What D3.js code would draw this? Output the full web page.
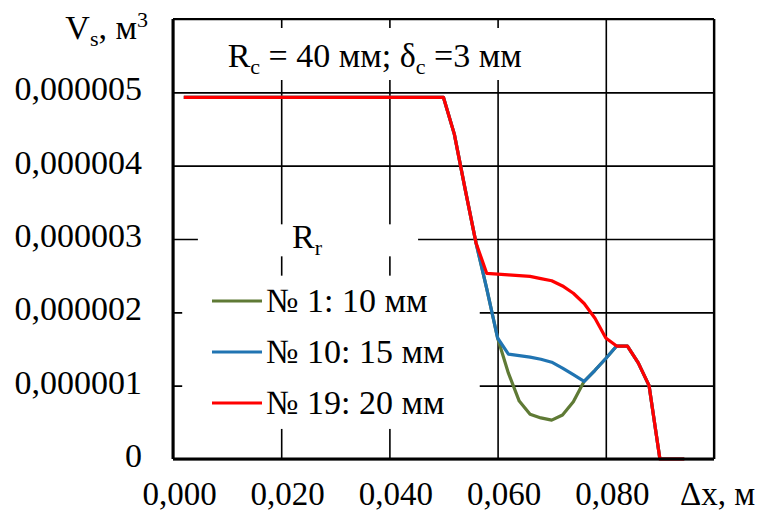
<!DOCTYPE html>
<html lang="ru">
<head>
  <meta charset="UTF-8">
  <title>Vs от Δx</title>
  <script src="https://d3js.org/d3.v7.min.js"></script>
  <style>
    html, body { margin: 0; padding: 0; background: #fff; }
    svg text { font-family: "Liberation Serif", "Times New Roman", serif; fill: #000; }
  </style>
</head>
<body>
  <svg id="chart" width="763" height="513"></svg>

  <script>
    // Δx, м (shared by all three curves)
    const xVals = [0.002, 0.050, 0.052, 0.054, 0.056, 0.058, 0.060, 0.062, 0.064, 0.066, 0.068,
                   0.070, 0.072, 0.074, 0.076, 0.078, 0.080, 0.082, 0.084, 0.086, 0.088, 0.090,
                   0.092, 0.0945];
    // Vs in units of 1e-6 м³
    const vsR1 = [4.93, 4.93, 4.43, 3.68, 2.95, 2.32, 1.65, 1.17, 0.79, 0.61, 0.56,
                  0.53, 0.60, 0.78, 1.06, 1.21, 1.37, 1.54, 1.54, 1.31, 1.00, 0,
                  0, 0];
    const vsR10 = [4.93, 4.93, 4.43, 3.68, 2.95, 2.32, 1.65, 1.43, 1.41, 1.39, 1.36,
                   1.32, 1.24, 1.15, 1.06, 1.21, 1.37, 1.54, 1.54, 1.31, 1.00, 0,
                   0, 0];
    const vsR19 = [4.93, 4.93, 4.43, 3.68, 2.95, 2.53, 2.52, 2.51, 2.50, 2.49, 2.46,
                   2.43, 2.36, 2.26, 2.12, 1.92, 1.65, 1.54, 1.54, 1.31, 1.00, 0,
                   0, 0];

    const seriesNames = ["№ 1: 10 мм", "№ 10: 15 мм", "№ 19: 20 мм"];
    const seriesColors = ["#5f7a35", "#2074b2", "#ff0000"];
    const seriesValues = [vsR1, vsR10, vsR19];

    const xTicks = [0, 0.02, 0.04, 0.06, 0.08, 0.1];
    const xTickLabels = ["0,000", "0,020", "0,040", "0,060", "0,080", ""];
    const yTicks = [0, 1, 2, 3, 4, 5, 6];
    const yTickLabels = ["0", "0,000001", "0,000002", "0,000003", "0,000004", "0,000005", ""];

    const svg = d3.select("#chart"),
      margin = {top: 19, right: 49, bottom: 54, left: 173},
      width = +svg.attr("width") - margin.left - margin.right,
      height = +svg.attr("height") - margin.top - margin.bottom;

    svg.append("rect").attr("width", 763).attr("height", 513).attr("fill", "#fff");

    const g = svg.append("g").attr("transform", `translate(${margin.left},${margin.top})`);

    const x = d3.scaleLinear().domain([0, 0.1]).range([0, width]);
    const y = d3.scaleLinear().domain([0, 6]).range([height, 0]);

    // grid via axes
    const xGrid = g.append("g")
      .attr("transform", `translate(0,${height})`)
      .call(d3.axisBottom(x).tickValues(xTicks).tickSize(-height)
        .tickFormat((d, i) => xTickLabels[i]));
    xGrid.select(".domain").remove();
    xGrid.selectAll("line").attr("stroke", "#000").attr("stroke-width", 1.6);
    xGrid.selectAll("text")
      .attr("font-size", "33px")
      .attr("dx", 6)
      .attr("y", 46)
      .attr("dy", 0);

    const yGrid = g.append("g")
      .call(d3.axisLeft(y).tickValues(yTicks).tickSize(-width)
        .tickFormat((d, i) => yTickLabels[i]));
    yGrid.select(".domain").remove();
    yGrid.selectAll("line").attr("stroke", "#000").attr("stroke-width", 1.6);
    yGrid.selectAll("text")
      .attr("font-size", "34px")
      .attr("x", -31)
      .attr("dy", "0.22em");

    // frame
    g.append("line").attr("x1", 0).attr("x2", width).attr("y1", 0).attr("y2", 0)
      .attr("stroke", "#000").attr("stroke-width", 2.2);
    g.append("line").attr("x1", width).attr("x2", width).attr("y1", 0).attr("y2", height)
      .attr("stroke", "#000").attr("stroke-width", 2.2);

    // white boxes of the text blocks (they hide the grid)
    g.append("rect").attr("x", x(0.006)).attr("y", 9).attr("width", x(0.07) - x(0.006))
      .attr("height", 52).attr("fill", "#fff");
    g.append("rect").attr("x", x(0.0046)).attr("y", y(3.2)).attr("width", x(0.0453) - x(0.0046))
      .attr("height", 32).attr("fill", "#fff");
    g.append("rect").attr("x", x(0.0017)).attr("y", y(2.5)).attr("width", x(0.0567) - x(0.0017))
      .attr("height", y(0.41) - y(2.5)).attr("fill", "#fff");

    // curves
    const line = d3.line()
      .x(d => x(d[0]))
      .y(d => y(d[1]));

    seriesValues.forEach((vals, i) => {
      g.append("path")
        .datum(xVals.map((xv, j) => [xv, vals[j]]))
        .attr("fill", "none")
        .attr("stroke", seriesColors[i])
        .attr("stroke-width", 3.2)
        .attr("stroke-linejoin", "round")
        .attr("d", line);
    });

    // axes lines (left, bottom) drawn thick on top
    g.append("line").attr("x1", 0).attr("x2", 0).attr("y1", 0).attr("y2", height)
      .attr("stroke", "#000").attr("stroke-width", 3);
    g.append("line").attr("x1", 0).attr("x2", width).attr("y1", height).attr("y2", height)
      .attr("stroke", "#000").attr("stroke-width", 3);

    // title box text
    const title = g.append("text").attr("x", x(0.0101)).attr("y", 48).attr("font-size", "34px");
    title.append("tspan").text("R");
    title.append("tspan").attr("font-size", "22px").attr("dy", 7).text("c");
    title.append("tspan").attr("dy", -7).text(" = 40 мм; δ");
    title.append("tspan").attr("font-size", "22px").attr("dy", 7).text("c");
    title.append("tspan").attr("dy", -7).text(" =3 мм");

    // y axis title
    const yTitle = svg.append("text").attr("x", 148).attr("y", 39)
      .attr("text-anchor", "end").attr("font-size", "34px");
    yTitle.append("tspan").text("V");
    yTitle.append("tspan").attr("font-size", "22px").attr("dy", 7).text("s");
    yTitle.append("tspan").attr("dy", -7).text(", м");
    yTitle.append("tspan").attr("font-size", "22px").attr("dy", -12).text("3");

    // x axis title
    svg.append("text").attr("x", 680).attr("y", 505).attr("font-size", "33px").text("Δx, м");

    // legend
    const legTitle = svg.append("text").attr("x", 292).attr("y", 248).attr("font-size", "34px");
    legTitle.append("tspan").text("R");
    legTitle.append("tspan").attr("font-size", "22px").attr("dy", 7).text("r");

    const legend = svg.append("g");
    seriesNames.forEach((name, i) => {
      const ly = 301 + i * 51;
      legend.append("line").attr("x1", 212).attr("x2", 262).attr("y1", ly).attr("y2", ly)
        .attr("stroke", seriesColors[i]).attr("stroke-width", 3.2);
      legend.append("text").attr("x", 266).attr("y", ly + 11).attr("font-size", "34px").text(name);
    });
  </script>
</body>
</html>
